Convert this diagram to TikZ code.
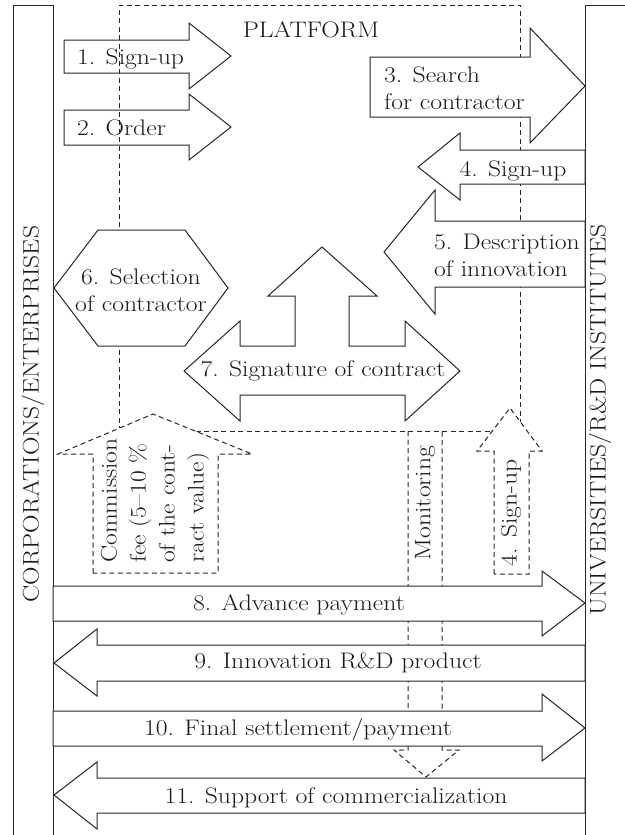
\documentclass[tikz,border=0pt]{standalone}
\usepackage{fontspec}
\setmainfont{Latin Modern Roman}[FakeStretch=1.14]
\begin{document}
\begin{tikzpicture}[x=1pt,y=-1pt,
  solidshape/.style={draw=black!85, line width=1pt, line join=miter, fill=white},
  hollowshape/.style={draw=black!85, line width=1pt, line join=miter},
  dsh/.style={draw=black!85, line width=1pt, dash pattern=on 5pt off 3.5pt},
  lbl/.style={inner sep=0pt, text=black!90, font=\fontsize{22.5}{27}\selectfont}]
\useasboundingbox (0,0) rectangle (624,835);
\fill[white] (0,0) rectangle (624,835);

% platform (dashed)
\draw[dsh] (119,431) -- (119,5) -- (520,5) -- (520,431) -- cycle;
% monitoring (dashed down arrow)
\draw[dsh] (408,431) -- (408,750) -- (394,750) -- (426,777) -- (459,750) -- (442,750) -- (442,431);
% commission fee (dashed up arrow)
\draw[dsh, fill=white] (93,573) -- (93,454) -- (58,454) -- (153,414) -- (252,454) -- (218,454) -- (218,573) -- cycle;
% sign-up from institutes (dashed up arrow)
\draw[dsh, fill=white] (494,574) -- (494,451) -- (477,451) -- (510,408) -- (542,451) -- (529,451) -- (529,574) -- cycle;

% side columns
\draw[hollowshape] (13,840) -- (13,5) -- (53,5) -- (53,840);
\draw[hollowshape] (585,840) -- (585,5) -- (630,5);

% arrows 1, 2
\draw[hollowshape] (64,40) -- (189,40) -- (189,23) -- (231,56) -- (189,89) -- (189,73) -- (64,73) -- cycle;
\draw[hollowshape] (64,110) -- (189,110) -- (189,94) -- (231,127) -- (189,160) -- (189,145) -- (64,145) -- cycle;
% arrow 3
\draw[solidshape] (370,57) -- (530,57) -- (530,28) -- (585,86) -- (530,143) -- (530,117) -- (370,117) -- cycle;
% arrow 4
\draw[solidshape] (585,150) -- (460,150) -- (460,133) -- (418,167) -- (460,200) -- (460,184) -- (585,184) -- cycle;
% arrow 5
\draw[solidshape] (585,221) -- (435,221) -- (435,190) -- (384,252) -- (435,314) -- (435,287) -- (585,287) -- cycle;
% hexagon 6
\draw[solidshape] (54,288) -- (98,230) -- (185,230) -- (228,288) -- (185,346) -- (98,346) -- cycle;
% arrow 7
\draw[solidshape] (184,371) -- (240,321) -- (240,346) -- (295,346) -- (295,296) -- (268,296) -- (322,247)
  -- (377,296) -- (349,296) -- (349,346) -- (405,346) -- (405,321) -- (460,371) -- (405,421)
  -- (405,395) -- (240,395) -- (240,421) -- cycle;
% arrows 8-11
\draw[solidshape] (53,586) -- (542,586) -- (542,571) -- (585,603) -- (542,636) -- (542,621) -- (53,621) -- cycle;
\draw[solidshape] (54,663) -- (97,629) -- (97,645) -- (585,645) -- (585,681) -- (97,681) -- (97,696) -- cycle;
\draw[solidshape] (53,711) -- (542,711) -- (542,694) -- (585,728) -- (542,761) -- (542,746) -- (53,746) -- cycle;
\draw[solidshape] (54,795) -- (97,762) -- (97,778) -- (585,778) -- (585,813) -- (97,813) -- (97,829) -- cycle;

% labels
\node[lbl] (platform) at (311,30) {PLATFORM};
\node[lbl, anchor=base west] (t1) at (77,64) {1. Sign-up};
\node[lbl, anchor=base west] (t2) at (77,135) {2. Order};
\node[lbl, anchor=west, align=left] (t3) at (384,88) {3. Search\\for contractor};
\node[lbl, anchor=base] (t4) at (513,176) {4. Sign-up};
\node[lbl, anchor=west, align=left] (t5) at (434,255) {5. Description\\of innovation};
\node[lbl, align=center] (t6) at (141,290) {6. Selection\\of contractor};
\node[lbl, anchor=base] (t7) at (323,376) {7. Signature of contract};
\node[lbl, anchor=base] (t8) at (299,610) {8. Advance payment};
\node[lbl, anchor=base] (t9) at (338,668) {9. Innovation R\&D product};
\node[lbl, anchor=base] (t10) at (298,735) {10. Final settlement/payment};
\node[lbl, anchor=base] (t11) at (336,803) {11. Support of commercialization};
\node[lbl, rotate=90] (corp) at (33,414) {CORPORATIONS/ENTERPRISES};
\node[lbl, rotate=90] (univ) at (600,420) {UNIVERSITIES/R\&D INSTITUTES};
\node[lbl, rotate=90, anchor=west, align=left, font=\fontsize{22.5}{29}\selectfont] (fee) at (155,563) {Commission\\fee (5--10 \%\\of the cont-\\ract value)};
\node[lbl, rotate=90] (mon) at (425,503) {Monitoring};
\node[lbl, rotate=90] (su) at (511,513) {4. Sign-up};
\end{tikzpicture}
\end{document}
